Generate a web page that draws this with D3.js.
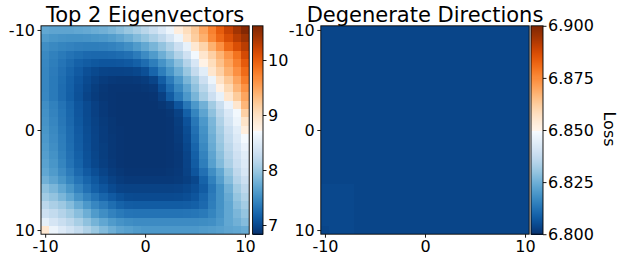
<!DOCTYPE html>
<html><head><meta charset="utf-8">
<script src="https://cdn.jsdelivr.net/npm/d3@7"></script>
<style>
body{margin:0;background:#fff}
svg{display:block}
text{font-family:"DejaVu Sans",sans-serif;fill:#000}
</style>
</head><body>
<svg id="chart" width="617" height="262"></svg>
<script>
// grid coordinates (both directions)
const coords = [-10,-9.1667,-8.3333,-7.5,-6.6667,-5.8333,-5,-4.1667,-3.3333,-2.5,-1.6667,-0.8333,0,0.8333,1.6667,2.5,3.3333,4.1667,5,5.8333,6.6667,7.5,8.3333,9.1667,10];
const axisTicks = [-10, 0, 10];
const titles = ["Top 2 Eigenvectors", "Degenerate Directions"];
const colorbarLabel = "Loss";

// loss along the top 2 eigenvectors (rows: y = -10 .. 10, cols: x = -10 .. 10)
const lossTop = [
[7.72,7.70,7.70,7.70,7.72,7.74,7.77,7.80,7.85,7.92,8.00,8.08,8.18,8.30,8.45,8.62,8.85,9.05,9.25,9.50,9.75,10.00,10.22,10.42,10.60],
[7.62,7.58,7.56,7.55,7.55,7.56,7.58,7.60,7.64,7.70,7.78,7.88,7.98,8.10,8.22,8.40,8.62,8.95,9.20,9.42,9.70,9.92,10.12,10.30,10.45],
[7.52,7.48,7.45,7.43,7.41,7.40,7.40,7.41,7.43,7.47,7.53,7.62,7.73,7.84,7.97,8.12,8.32,8.58,8.92,9.15,9.42,9.65,9.92,10.12,10.30],
[7.48,7.42,7.37,7.32,7.28,7.25,7.24,7.24,7.25,7.27,7.30,7.38,7.50,7.62,7.78,7.94,8.13,8.35,8.68,8.95,9.18,9.40,9.62,9.85,10.15],
[7.47,7.40,7.33,7.26,7.19,7.15,7.12,7.10,7.10,7.11,7.13,7.18,7.27,7.40,7.56,7.72,7.92,8.15,8.42,8.78,9.05,9.30,9.52,9.75,10.02],
[7.46,7.38,7.30,7.22,7.14,7.06,7.01,6.98,6.97,6.97,6.98,7.00,7.06,7.22,7.40,7.58,7.78,8.00,8.26,8.52,8.95,9.18,9.42,9.65,9.90],
[7.46,7.37,7.28,7.19,7.10,7.02,6.96,6.92,6.90,6.89,6.89,6.90,6.92,6.98,7.16,7.38,7.60,7.84,8.05,8.32,8.62,9.00,9.25,9.50,9.78],
[7.46,7.37,7.27,7.18,7.08,7.00,6.93,6.89,6.87,6.87,6.87,6.87,6.88,6.90,7.05,7.27,7.48,7.70,7.95,8.18,8.45,8.80,9.10,9.38,9.64],
[7.47,7.37,7.27,7.17,7.07,6.98,6.92,6.88,6.87,6.86,6.86,6.86,6.86,6.87,6.95,7.15,7.37,7.60,7.84,8.08,8.32,8.58,8.95,9.22,9.50],
[7.52,7.42,7.32,7.22,7.10,7.02,6.95,6.90,6.87,6.86,6.86,6.86,6.86,6.86,6.88,6.93,7.10,7.35,7.60,7.80,8.05,8.30,8.60,8.95,9.38],
[7.54,7.44,7.34,7.23,7.11,7.02,6.95,6.90,6.87,6.86,6.86,6.86,6.86,6.86,6.86,6.88,6.96,7.18,7.45,7.70,7.95,8.20,8.45,8.68,9.18],
[7.56,7.46,7.35,7.24,7.12,7.03,6.96,6.91,6.88,6.86,6.86,6.86,6.86,6.86,6.86,6.87,6.93,7.08,7.35,7.60,7.85,8.12,8.38,8.62,8.98],
[7.58,7.48,7.37,7.26,7.14,7.04,6.97,6.92,6.88,6.87,6.86,6.86,6.86,6.86,6.86,6.87,6.92,7.04,7.30,7.55,7.82,8.06,8.30,8.52,8.84],
[7.60,7.50,7.39,7.27,7.15,7.05,6.98,6.92,6.89,6.87,6.86,6.86,6.86,6.86,6.86,6.87,6.91,7.02,7.26,7.52,7.78,8.02,8.25,8.46,8.70],
[7.62,7.52,7.40,7.28,7.16,7.06,6.98,6.93,6.89,6.87,6.86,6.86,6.86,6.86,6.86,6.87,6.90,7.00,7.22,7.48,7.75,7.98,8.20,8.40,8.60],
[7.65,7.55,7.42,7.30,7.18,7.07,6.99,6.93,6.89,6.87,6.86,6.86,6.86,6.86,6.86,6.87,6.89,6.98,7.18,7.44,7.70,7.93,8.15,8.35,8.52],
[7.68,7.58,7.45,7.32,7.20,7.08,7.00,6.94,6.90,6.87,6.86,6.86,6.86,6.86,6.86,6.87,6.89,6.97,7.15,7.40,7.66,7.88,8.10,8.30,8.48],
[7.72,7.62,7.50,7.38,7.25,7.14,7.05,6.98,6.92,6.89,6.87,6.87,6.87,6.87,6.87,6.88,6.90,6.96,7.10,7.30,7.52,7.72,7.98,8.22,8.42],
[7.80,7.70,7.58,7.45,7.33,7.22,7.12,7.03,6.96,6.92,6.90,6.90,6.90,6.90,6.90,6.90,6.91,6.94,7.00,7.20,7.42,7.65,7.90,8.15,8.32],
[7.95,7.85,7.72,7.58,7.43,7.30,7.18,7.10,7.02,6.97,6.96,6.96,6.96,6.96,6.96,6.96,6.97,7.00,7.05,7.15,7.35,7.55,7.80,8.05,8.22],
[8.05,7.97,7.85,7.72,7.56,7.43,7.32,7.22,7.14,7.07,7.03,7.02,7.02,7.02,7.02,7.02,7.03,7.05,7.10,7.22,7.38,7.55,7.75,7.98,8.14],
[8.20,8.10,8.02,7.90,7.75,7.60,7.47,7.38,7.28,7.20,7.16,7.15,7.15,7.15,7.15,7.15,7.15,7.16,7.18,7.25,7.40,7.55,7.72,7.92,8.06],
[8.33,8.25,8.15,8.05,7.92,7.78,7.62,7.52,7.43,7.37,7.33,7.32,7.32,7.32,7.32,7.32,7.32,7.33,7.34,7.37,7.45,7.56,7.72,7.85,7.98],
[8.55,8.40,8.30,8.20,8.08,7.95,7.82,7.72,7.62,7.56,7.52,7.50,7.50,7.50,7.50,7.50,7.50,7.50,7.50,7.51,7.53,7.60,7.72,7.80,7.90],
[8.92,8.62,8.48,8.37,8.25,8.12,8.00,7.88,7.78,7.70,7.66,7.62,7.60,7.60,7.60,7.60,7.60,7.60,7.60,7.62,7.64,7.66,7.70,7.72,7.76]
];

// loss along degenerate directions (nearly flat)
const lossDeg = [
[6.804,6.804,6.804,6.804,6.804,6.804,6.804,6.804,6.804,6.804,6.804,6.804,6.804,6.804,6.804,6.804,6.804,6.804,6.804,6.804,6.804,6.804,6.804,6.804,6.804],
[6.804,6.804,6.804,6.804,6.804,6.804,6.804,6.804,6.804,6.804,6.804,6.804,6.804,6.804,6.804,6.804,6.804,6.804,6.804,6.804,6.804,6.804,6.804,6.804,6.804],
[6.804,6.804,6.804,6.804,6.804,6.804,6.804,6.804,6.804,6.804,6.804,6.804,6.804,6.804,6.804,6.804,6.804,6.804,6.804,6.804,6.804,6.804,6.804,6.804,6.804],
[6.804,6.804,6.804,6.804,6.804,6.804,6.804,6.804,6.804,6.804,6.804,6.804,6.804,6.804,6.804,6.804,6.804,6.804,6.804,6.804,6.804,6.804,6.804,6.804,6.804],
[6.804,6.804,6.804,6.804,6.804,6.804,6.804,6.804,6.804,6.804,6.804,6.804,6.804,6.804,6.804,6.804,6.804,6.804,6.804,6.804,6.804,6.804,6.804,6.804,6.804],
[6.804,6.804,6.804,6.804,6.804,6.804,6.804,6.804,6.804,6.804,6.804,6.804,6.804,6.804,6.804,6.804,6.804,6.804,6.804,6.804,6.804,6.804,6.804,6.804,6.804],
[6.804,6.804,6.804,6.804,6.804,6.804,6.804,6.804,6.804,6.804,6.804,6.804,6.804,6.804,6.804,6.804,6.804,6.804,6.804,6.804,6.804,6.804,6.804,6.804,6.804],
[6.804,6.804,6.804,6.804,6.804,6.804,6.804,6.804,6.804,6.804,6.804,6.804,6.804,6.804,6.804,6.804,6.804,6.804,6.804,6.804,6.804,6.804,6.804,6.804,6.804],
[6.804,6.804,6.804,6.804,6.804,6.804,6.804,6.804,6.804,6.804,6.804,6.804,6.804,6.804,6.804,6.804,6.804,6.804,6.804,6.804,6.804,6.804,6.804,6.804,6.804],
[6.804,6.804,6.804,6.804,6.804,6.804,6.804,6.804,6.804,6.804,6.804,6.804,6.804,6.804,6.804,6.804,6.804,6.804,6.804,6.804,6.804,6.804,6.804,6.804,6.804],
[6.804,6.804,6.804,6.804,6.804,6.804,6.804,6.804,6.804,6.804,6.804,6.804,6.804,6.804,6.804,6.804,6.804,6.804,6.804,6.804,6.804,6.804,6.804,6.804,6.804],
[6.804,6.804,6.804,6.804,6.804,6.804,6.804,6.804,6.804,6.804,6.804,6.804,6.804,6.804,6.804,6.804,6.804,6.804,6.804,6.804,6.804,6.804,6.804,6.804,6.804],
[6.804,6.804,6.804,6.804,6.804,6.804,6.804,6.804,6.804,6.804,6.804,6.804,6.804,6.804,6.804,6.804,6.804,6.804,6.804,6.804,6.804,6.804,6.804,6.804,6.804],
[6.804,6.804,6.804,6.804,6.804,6.804,6.804,6.804,6.804,6.804,6.804,6.804,6.804,6.804,6.804,6.804,6.804,6.804,6.804,6.804,6.804,6.804,6.804,6.804,6.804],
[6.804,6.804,6.804,6.804,6.804,6.804,6.804,6.804,6.804,6.804,6.804,6.804,6.804,6.804,6.804,6.804,6.804,6.804,6.804,6.804,6.804,6.804,6.804,6.804,6.804],
[6.804,6.804,6.804,6.804,6.804,6.804,6.804,6.804,6.804,6.804,6.804,6.804,6.804,6.804,6.804,6.804,6.804,6.804,6.804,6.804,6.804,6.804,6.804,6.804,6.804],
[6.804,6.804,6.804,6.804,6.804,6.804,6.804,6.804,6.804,6.804,6.804,6.804,6.804,6.804,6.804,6.804,6.804,6.804,6.804,6.804,6.804,6.804,6.804,6.804,6.804],
[6.804,6.804,6.804,6.804,6.804,6.804,6.804,6.804,6.804,6.804,6.804,6.804,6.804,6.804,6.804,6.804,6.804,6.804,6.804,6.804,6.804,6.804,6.804,6.804,6.804],
[6.804,6.804,6.804,6.804,6.804,6.804,6.804,6.804,6.804,6.804,6.804,6.804,6.804,6.804,6.804,6.804,6.804,6.804,6.804,6.804,6.804,6.804,6.804,6.804,6.804],
[6.8045,6.8045,6.8045,6.8045,6.804,6.804,6.804,6.804,6.804,6.804,6.804,6.804,6.804,6.804,6.804,6.804,6.804,6.804,6.804,6.804,6.804,6.804,6.804,6.804,6.804],
[6.8045,6.8045,6.8045,6.8045,6.804,6.804,6.804,6.804,6.804,6.804,6.804,6.804,6.804,6.804,6.804,6.804,6.804,6.804,6.804,6.804,6.804,6.804,6.804,6.804,6.804],
[6.8045,6.8045,6.8045,6.8045,6.804,6.804,6.804,6.804,6.804,6.804,6.804,6.804,6.804,6.804,6.804,6.804,6.804,6.804,6.804,6.804,6.804,6.804,6.804,6.804,6.804],
[6.8045,6.8045,6.8045,6.8045,6.804,6.804,6.804,6.804,6.804,6.804,6.804,6.804,6.804,6.804,6.804,6.804,6.804,6.804,6.804,6.804,6.804,6.804,6.804,6.804,6.804],
[6.8045,6.8045,6.8045,6.8045,6.804,6.804,6.804,6.804,6.804,6.804,6.804,6.804,6.804,6.804,6.804,6.804,6.804,6.804,6.804,6.804,6.804,6.804,6.804,6.804,6.804],
[6.804,6.8045,6.8045,6.8045,6.804,6.804,6.804,6.804,6.804,6.804,6.804,6.804,6.804,6.804,6.804,6.804,6.804,6.804,6.804,6.804,6.804,6.804,6.804,6.804,6.804]
];

const colorRangeTop = [6.833, 10.622];
const colorRangeDeg = [6.8, 6.9];
const cbTicksTop = [7, 8, 9, 10];
const cbTicksDeg = [6.8, 6.825, 6.85, 6.875, 6.9];

const svg = d3.select("#chart");

// diverging Blues (low) -> white -> Oranges (high)
function cmap(t) {
  t = Math.max(0, Math.min(1, t));
  return t < 0.5 ? d3.interpolateBlues(1 - 2 * t) : d3.interpolateOranges(2 * t - 1);
}

const half = (coords[1] - coords[0]) / 2;
const ext = [coords[0] - half, coords[coords.length - 1] + half];

function panel(opts) {
  const {data, x0, x1, y0, y1, cb0, cb1, crange, cticks, cfmt, title, label} = opts;
  const x = d3.scaleLinear().domain(ext).range([x0, x1]);
  const y = d3.scaleLinear().domain(ext).range([y0, y1]);
  const norm = d3.scaleLinear().domain(crange).range([0, 1]);
  const cw = x(coords[1]) - x(coords[0]);
  const ch = y(coords[1]) - y(coords[0]);

  const g = svg.append("g");
  const cells = [];
  data.forEach((row, r) => row.forEach((v, c) => cells.push({r, c, v})));
  g.append("g").attr("shape-rendering", "crispEdges")
    .selectAll("rect.cell").data(cells).join("rect")
    .attr("class", "cell")
    .attr("x", d => x(coords[d.c]) - cw / 2)
    .attr("y", d => y(coords[d.r]) - ch / 2)
    .attr("width", d => Math.min(cw + 0.6, x1 - (x(coords[d.c]) - cw / 2)))
    .attr("height", d => Math.min(ch + 0.6, y1 - (y(coords[d.r]) - ch / 2)))
    .attr("fill", d => cmap(norm(d.v)));

  g.append("rect").attr("x", x0).attr("y", y0).attr("width", x1 - x0).attr("height", y1 - y0)
    .attr("fill", "none").attr("stroke", "#000").attr("stroke-width", 0.9);

  const ax = g.append("g").attr("transform", `translate(0,${y1})`)
    .call(d3.axisBottom(x).tickValues(axisTicks).tickSize(3.5).tickPadding(3).tickFormat(d => String(d)));
  const ay = g.append("g").attr("transform", `translate(${x0},0)`)
    .call(d3.axisLeft(y).tickValues(axisTicks).tickSize(3.5).tickPadding(2.5).tickFormat(d => String(d)));
  [ax, ay].forEach(a => {
    a.select(".domain").remove();
    a.selectAll("line").attr("stroke", "#000").attr("stroke-width", 0.9);
    a.selectAll("text").attr("font-size", 16).attr("font-family", "DejaVu Sans").attr("fill", "#000");
  });

  g.append("text").attr("x", (x0 + x1) / 2).attr("y", 21.5).attr("text-anchor", "middle")
    .attr("font-size", 21).text(title);

  // colorbar
  const cy = d3.scaleLinear().domain(crange).range([y1, y0]);
  const nStrips = 208;
  const strips = d3.range(nStrips).map(i => crange[0] + (i + 0.5) / nStrips * (crange[1] - crange[0]));
  const sh = (y1 - y0) / nStrips;
  g.append("g").attr("shape-rendering", "crispEdges")
    .selectAll("rect.strip").data(strips).join("rect")
    .attr("class", "strip")
    .attr("x", cb0).attr("width", cb1 - cb0)
    .attr("y", d => cy(d) - sh / 2).attr("height", sh + 0.6)
    .attr("fill", d => cmap(norm(d)));
  g.append("rect").attr("x", cb0).attr("y", y0).attr("width", cb1 - cb0).attr("height", y1 - y0)
    .attr("fill", "none").attr("stroke", "#000").attr("stroke-width", 0.9);
  const ac = g.append("g").attr("transform", `translate(${cb1},0)`)
    .call(d3.axisRight(cy).tickValues(cticks).tickSize(3.5).tickPadding(1.5).tickFormat(cfmt));
  ac.select(".domain").remove();
  ac.selectAll("line").attr("stroke", "#000").attr("stroke-width", 0.9);
  ac.selectAll("text").attr("font-size", 16).attr("font-family", "DejaVu Sans").attr("fill", "#000");

  if (label) {
    g.append("text").attr("transform", `translate(603.5,129) rotate(90)`)
      .attr("text-anchor", "middle").attr("font-size", 16).text(label);
  }
}

panel({data: lossTop, x0: 41, x1: 249.2, y0: 25.8, y1: 234.2, cb0: 252.5, cb1: 263,
  crange: colorRangeTop, cticks: cbTicksTop, cfmt: d3.format("d"), title: titles[0]});
panel({data: lossDeg, x0: 320.8, x1: 529.2, y0: 25.8, y1: 234.2, cb0: 531, cb1: 543,
  crange: colorRangeDeg, cticks: cbTicksDeg, cfmt: d3.format(".3f"), title: titles[1], label: colorbarLabel});
</script>
</body></html>
